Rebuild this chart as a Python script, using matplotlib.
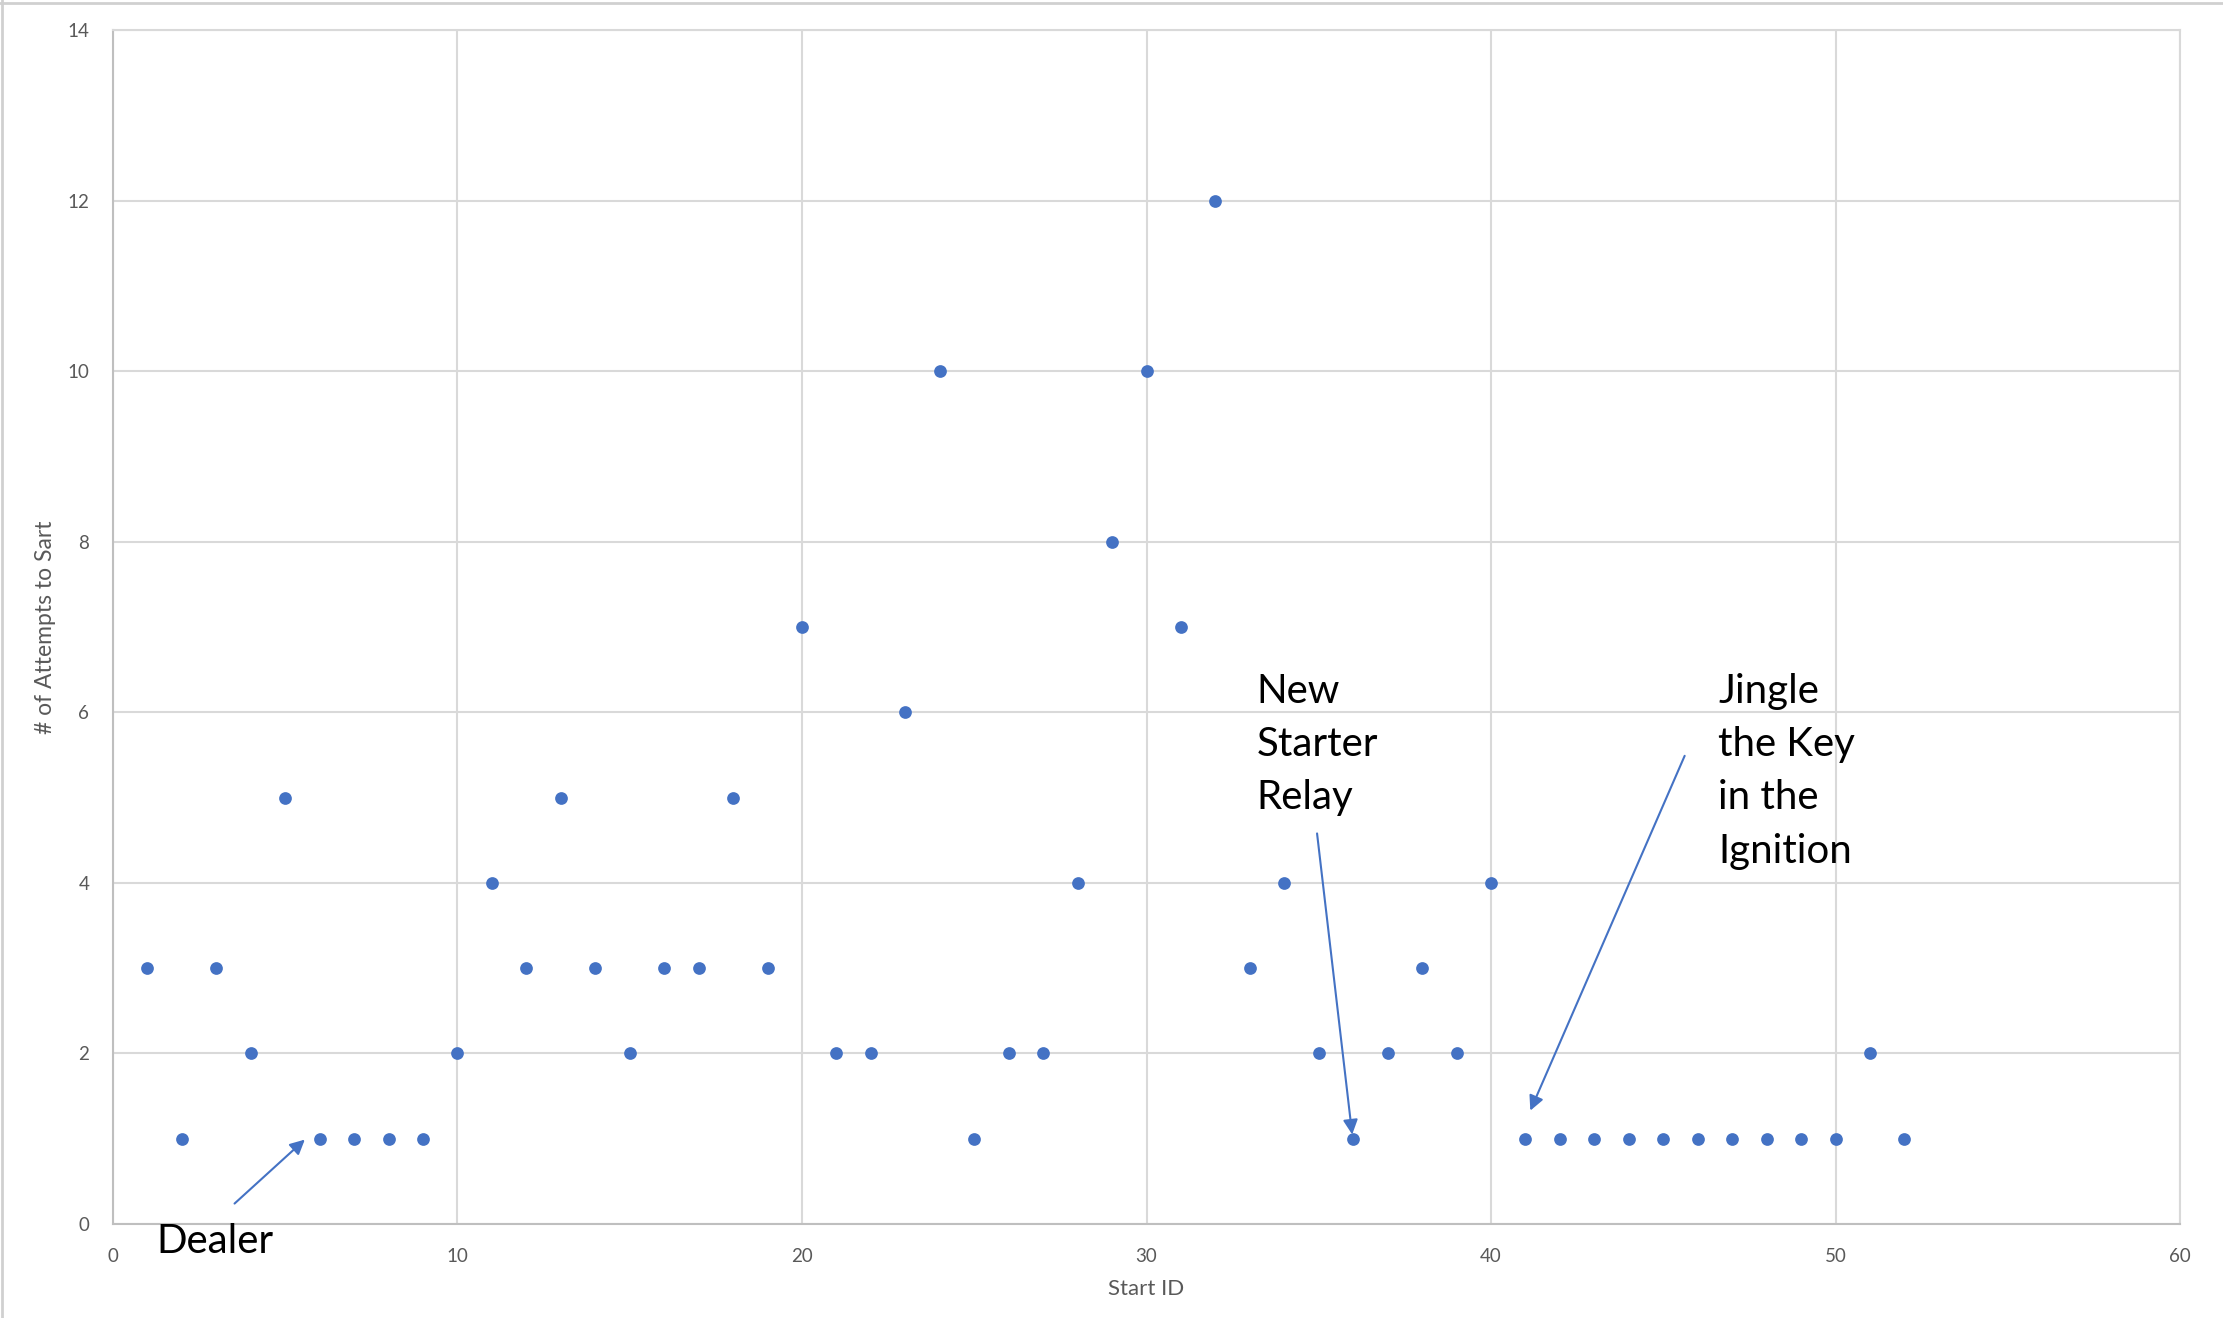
import numpy as np
import matplotlib.pyplot as plt
from matplotlib.lines import Line2D

# datos: número de intentos para arrancar por cada arranque
start_id = np.arange(1, 53)
attempts = [3, 1, 3, 2, 5, 1, 1, 1, 1, 2,
            4, 3, 5, 3, 2, 3, 3, 5, 3, 7,
            2, 2, 6, 10, 1, 2, 2, 4, 8, 10,
            7, 12, 3, 4, 2, 1, 2, 3, 2, 4,
            1, 1, 1, 1, 1, 1, 1, 1, 1, 1,
            2, 1]

# notas: texto, posición del texto, punta y cola de la flecha
notes = ['Dealer', 'New\nStarter\nRelay', 'Jingle\nthe Key\nin the\nIgnition']
note_xy = [(1.25, -0.2), (33.2, 6.46), (46.6, 6.46)]
arrow_tail = [(3.53, 0.24), (34.95, 4.58), (45.62, 5.49)]
arrow_head = [(5.57, 0.99), (35.97, 1.05), (41.14, 1.33)]

blue = '#4472C4'
plt.rcParams['font.family'] = ['Lato', 'DejaVu Sans']

fig = plt.figure(figsize=(22.23, 13.18), dpi=100)
ax = fig.add_axes([0.0508, 0.0713, 0.9299, 0.9059])

ax.scatter(start_id, attempts, s=84, color=blue, zorder=3, linewidths=0)

ax.set_xlim(0, 60)
ax.set_ylim(0, 14)
ax.set_xticks(np.arange(0, 61, 10))
ax.set_yticks(np.arange(0, 15, 2))
ax.grid(True, color='#D9D9D9', lw=1.5)
ax.set_axisbelow(True)
for s in ax.spines.values():
    s.set_color('#D9D9D9')
    s.set_linewidth(1.5)
ax.spines['left'].set_color('#BFBFBF')
ax.spines['bottom'].set_color('#BFBFBF')
ax.tick_params(length=0, labelsize=13.5, colors='#595959', pad=17)

ax.set_xlabel('Start ID', fontsize=16, color='#595959', labelpad=10)
ax.set_ylabel('# of Attempts to Sart', fontsize=16.5, color='#595959', labelpad=8)

# flechas y textos
for txt, xy, tail, head in zip(notes, note_xy, arrow_tail, arrow_head):
    va = 'center' if txt == 'Dealer' else 'top'
    ax.text(xy[0], xy[1], txt, fontsize=29, color='black', ha='left', va=va,
            linespacing=1.54, zorder=4)
    ax.annotate('', xy=head, xytext=tail,
                arrowprops=dict(arrowstyle='-|>', color=blue, lw=1.5,
                                mutation_scale=22, shrinkA=0, shrinkB=0))

# borde del gráfico (arriba e izquierda)
fig.add_artist(Line2D([0, 1], [0.998, 0.998], color='#D0D0D0', lw=2,
                      transform=fig.transFigure))
fig.add_artist(Line2D([0.0007, 0.0007], [0, 1], color='#D0D0D0', lw=2,
                      transform=fig.transFigure))

fig.savefig('out.png', dpi=100)
